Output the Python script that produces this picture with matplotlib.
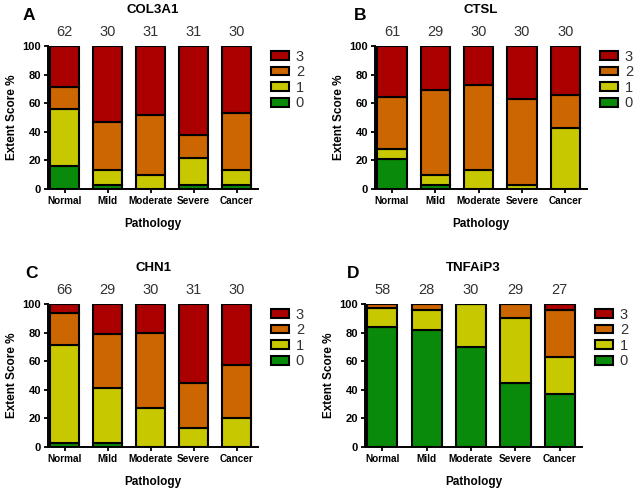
import matplotlib
matplotlib.use("Agg")
import matplotlib.pyplot as plt
from matplotlib.patches import Patch
import numpy as np

plt.rcParams["font.family"] = ["Liberation Sans", "DejaVu Sans"]

# ── Data (percent per extent score) ───────────────────────────────────────
categories = ["Normal", "Mild", "Moderate", "Severe", "Cancer"]
scores = ["0", "1", "2", "3"]

col3a1_counts = [62, 30, 31, 31, 30]
col3a1_s0 = [16, 3, 0, 3, 3]
col3a1_s1 = [40, 10, 10, 19, 10]
col3a1_s2 = [15, 34, 42, 16, 40]
col3a1_s3 = [29, 53, 48, 62, 47]

ctsl_counts = [61, 29, 30, 30, 30]
ctsl_s0 = [21, 3, 0, 0, 0]
ctsl_s1 = [7, 7, 13, 3, 43]
ctsl_s2 = [36, 59, 60, 60, 23]
ctsl_s3 = [36, 31, 27, 37, 34]

chn1_counts = [66, 29, 30, 31, 30]
chn1_s0 = [3, 3, 0, 0, 0]
chn1_s1 = [68, 38, 27, 13, 20]
chn1_s2 = [23, 38, 53, 32, 37]
chn1_s3 = [6, 21, 20, 55, 43]

tnfaip3_counts = [58, 28, 30, 29, 27]
tnfaip3_s0 = [84, 82, 70, 45, 37]
tnfaip3_s1 = [13, 14, 30, 45, 26]
tnfaip3_s2 = [3, 4, 0, 10, 33]
tnfaip3_s3 = [0, 0, 0, 0, 4]

# ── Style ─────────────────────────────────────────────────────────────────
COLORS = {"0": "#0a8a0a", "1": "#c8c800", "2": "#cc6600", "3": "#aa0000"}
W, H = 635, 492

# letter, title, n per group, stacked segments, axes box in pixels, letter x offset
panels = [
    ("A", "COL3A1", col3a1_counts, [col3a1_s0, col3a1_s1, col3a1_s2, col3a1_s3], (48, 46, 210, 143), -19),
    ("B", "CTSL", ctsl_counts, [ctsl_s0, ctsl_s1, ctsl_s2, ctsl_s3], (375, 46, 212, 143), -15),
    ("C", "CHN1", chn1_counts, [chn1_s0, chn1_s1, chn1_s2, chn1_s3], (48, 304, 210, 143), -16),
    ("D", "TNFAiP3", tnfaip3_counts, [tnfaip3_s0, tnfaip3_s1, tnfaip3_s2, tnfaip3_s3], (365, 304, 217, 143), -12),
]

fig = plt.figure(figsize=(W / 100, H / 100), dpi=100)

for letter, gene, counts, stack, (px, py, pw, ph), lx in panels:
    ax = fig.add_axes([px / W, 1 - (py + ph) / H, pw / W, ph / H])
    x = np.arange(len(categories))
    bottom = np.zeros(len(categories))
    for score, vals in zip(scores, stack):
        ax.bar(x, vals, bottom=bottom, width=0.68, color=COLORS[score],
               edgecolor="black", linewidth=1.5, zorder=2)
        bottom += np.array(vals)

    ax.set_xlim(-0.39, 4.5)
    ax.set_ylim(0, 100)
    ax.set_yticks([0, 20, 40, 60, 80, 100])
    ax.set_xticks(x)
    ax.set_xticklabels(categories, fontsize=7.2, fontweight="bold")
    for lab in ax.get_yticklabels():
        lab.set_fontsize(8)
        lab.set_fontweight("bold")
    ax.tick_params(axis="both", direction="out", length=3, width=1.3, pad=2)
    for side in ("top", "right"):
        ax.spines[side].set_visible(False)
    for side in ("left", "bottom"):
        ax.spines[side].set_linewidth(1.4)

    ax.set_xlabel("Pathology", fontsize=8.5, fontweight="bold", labelpad=9)
    ax.set_ylabel("Extent Score %", fontsize=8.5, fontweight="bold", labelpad=3)

    for xi, n in zip(x, counts):
        ax.annotate(str(n), (xi, 100), xytext=(0, 10), textcoords="offset points",
                    ha="center", va="center", fontsize=10.5, color="#333333")

    ax.text(0.5, 1 + 36 / ph, gene, transform=ax.transAxes, ha="center",
            va="center", fontsize=9.5, fontweight="bold")
    ax.text(lx / pw, 1 + 31 / ph, letter, transform=ax.transAxes,
            ha="center", va="center", fontsize=12.5, fontweight="bold")

    handles = [Patch(facecolor=COLORS[s], edgecolor="black", linewidth=1.5)
               for s in reversed(scores)]
    ax.legend(handles, list(reversed(scores)), loc="upper left",
              bbox_to_anchor=(1 + 13 / pw, 0.975), frameon=False, fontsize=10.5,
              handlelength=1.2, handleheight=0.55, handletextpad=0.5,
              labelspacing=0.11, borderpad=0, borderaxespad=0,
              labelcolor="#333333")

fig.savefig("out.png", dpi=100, facecolor="white")
